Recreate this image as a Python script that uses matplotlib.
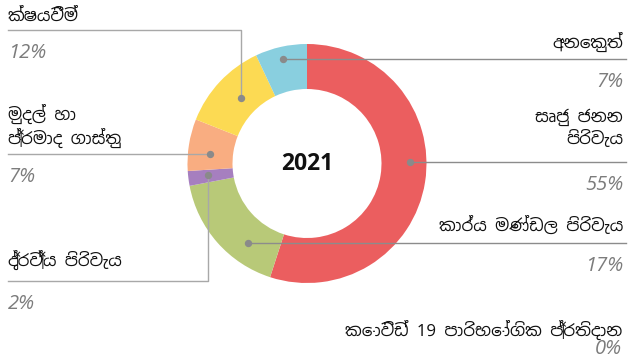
import matplotlib

matplotlib.use("Agg")
import matplotlib.pyplot as plt
import numpy as np
from matplotlib import font_manager
from matplotlib.ft2font import FT2Font

# --- data -------------------------------------------------------------------
YEAR = "2021"
LABELS = [
    "සෘජු ජනන\nපිරිවැය",
    "කාර්ය මණ්ඩල පිරිවැය",
    "ද්‍රව්‍ය පිරිවැය",
    "මුදල් හා\nප්‍රමාද ගාස්තු",
    "ක්ෂයවීම්",
    "අනෙකුත්",
    "කොවිඩ් 19 පාරිභෝගික ප්‍රතිදාන",
]
SHARES = [55, 17, 2, 7, 12, 7, 0]
COLORS = ["#eb5e5f", "#b8c978", "#a67fbf", "#f9ad81", "#fcda53", "#89cfdf", "#cccccc"]

# --- layout (pixels, measured from the top-left corner) ---------------------
W, H = 630, 360
CX, CY = 307, 163.5
R_OUT, RING = 119.5, 45
SIDE = ["R", "R", "L", "L", "L", "R", "R"]
ANCHOR_FRAC = [0.45, 0.30, 0.58, 0.36, 0.54, 0.48, None]   # position inside the slice
ANCHOR_R = [103, 99, 100, 97, 93, 107, None]
ELBOW_Y = [None, None, 281, None, 30, None, None]
LABEL_LIFT = [14, 8, 11, 6, 5, 7, None]   # gap between label and its leader
LEFT_X, RIGHT_X = 8, 626
PCT_FONT = dict(fontsize=14.5, style="italic",
                family=["Open Sans", "DejaVu Sans"], color="#7c7c7c")


def sinhala_family():
    """First installed family that has Sinhala glyphs, if any."""
    for entry in font_manager.fontManager.ttflist:
        if "sinhala" in entry.name.lower():
            return entry.name
    for entry in font_manager.fontManager.ttflist:
        try:
            if 0x0DC3 in FT2Font(entry.fname).get_charmap():
                return entry.name
        except Exception:
            pass
    return None


fam = sinhala_family()
LABEL_FONT = [fam, "DejaVu Sans"] if fam else ["DejaVu Sans"]


def up(y):
    return H - y


fig = plt.figure(figsize=(W / 100, H / 100), dpi=100)
ax = fig.add_axes([0, 0, 1, 1])

ax.pie(SHARES, colors=COLORS, startangle=90, counterclock=False,
       radius=R_OUT, center=(CX, up(CY)),
       wedgeprops=dict(width=RING, linewidth=0))
ax.set_xlim(0, W)
ax.set_ylim(0, H)
ax.set_aspect("equal")
ax.axis("off")

ax.text(CX, up(CY), YEAR, ha="center", va="center", fontsize=16.5,
        fontweight="bold", family=["Open Sans", "DejaVu Sans"], color="#111111")

total = sum(SHARES)
start = np.cumsum([0] + SHARES[:-1]) / total * 360
span = np.array(SHARES) / total * 360

for i, (lab, share) in enumerate(zip(LABELS, SHARES)):
    side = SIDE[i]
    pct = f"{share}%"
    if ANCHOR_FRAC[i] is None:
        # nothing to point at: just the label pair
        ax.text(W - 8, up(330), lab, ha="right", va="center", fontsize=12,
                family=LABEL_FONT, color="#111111")
        ax.text(W - 8, up(349), pct, ha="right", va="center", **PCT_FONT)
        continue

    th = np.deg2rad(start[i] + ANCHOR_FRAC[i] * span[i])
    dx = CX + ANCHOR_R[i] * np.sin(th)
    dy = up(CY) + ANCHOR_R[i] * np.cos(th)

    lc = "#a8a8a8" if side == "L" else "#8c8c8c"
    if ELBOW_Y[i] is not None:
        ly = up(ELBOW_Y[i])
        ax.plot([dx, dx, LEFT_X], [dy, ly, ly], color=lc, lw=1.0, zorder=3)
    else:
        ly = dy
        end = LEFT_X if side == "L" else RIGHT_X
        ax.plot([dx, end], [ly, ly], color=lc, lw=1.0, zorder=3)
    ax.plot(dx, dy, "o", ms=5.3, color="#8a8a8a", mec="none", zorder=4)

    tx, ha = (LEFT_X, "left") if side == "L" else (W - 7, "right")
    ax.text(tx, ly + LABEL_LIFT[i], lab, ha=ha, va="bottom", fontsize=12,
            family=LABEL_FONT, color="#111111", multialignment=ha,
            linespacing=1.25)
    ax.text(tx, ly - 23, pct, ha=ha, va="center", **PCT_FONT)

fig.savefig("out.png", dpi=100)
